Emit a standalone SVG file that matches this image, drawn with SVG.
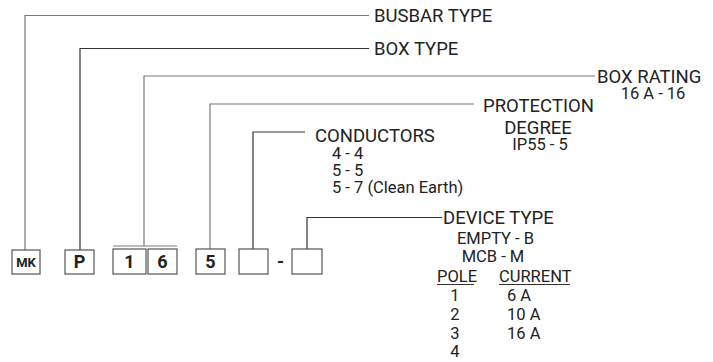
<svg xmlns="http://www.w3.org/2000/svg" width="713" height="362" viewBox="0 0 713 362">
<style>
.ln{fill:none;stroke:#7a7a7a;stroke-width:1.2}
.dk{stroke:#333}
.bx{fill:#fff;stroke:#555;stroke-width:1.2}
.bt{font-family:Roboto,"Liberation Sans",sans-serif;font-weight:bold;fill:#222;text-anchor:middle}
.lb{font-family:Roboto,"Liberation Sans",sans-serif;font-size:18.5px;fill:#222}
.sb{font-family:Roboto,"Liberation Sans",sans-serif;font-size:16.5px;fill:#222}
.mid{text-anchor:middle}
</style>
<rect width="713" height="362" fill="#fff"/>
<g id="connectors">
<path class="ln" d="M25,250V15.5H369"/>
<path class="ln dk" d="M80,250V48.5H369"/>
<path class="ln" d="M144,246V76H595"/>
<path class="ln" d="M113,246H177"/>
<path class="ln" d="M210,249V104H474"/>
<path class="ln dk" d="M253,249V132H305"/>
<path class="ln dk" d="M307,249V217.5H442"/>
</g>
<g id="box-mk"><rect class="bx" x="12" y="250" width="28" height="24"/><text class="bt" x="26" y="267" font-size="13">MK</text></g>
<g id="box-p"><rect class="bx" x="65" y="250" width="29" height="24"/><text class="bt" x="79.5" y="268" font-size="18">P</text></g>
<g id="box-1"><rect class="bx" x="113" y="249" width="33" height="25"/><text class="bt" x="129.5" y="268" font-size="18">1</text></g>
<g id="box-6"><rect class="bx" x="148" y="249" width="29" height="25"/><text class="bt" x="162.5" y="268" font-size="18">6</text></g>
<g id="box-5"><rect class="bx" x="196" y="249" width="29" height="25"/><text class="bt" x="210.5" y="268" font-size="18">5</text></g>
<g id="box-cond"><rect class="bx" x="239" y="249" width="29" height="25"/></g>
<g id="dash"><text class="bt" x="280.5" y="268" font-size="18">-</text></g>
<g id="box-dev"><rect class="bx" x="292" y="249" width="30" height="25"/></g>
<g id="label-busbar"><text class="lb" x="374" y="22">BUSBAR TYPE</text></g>
<g id="label-boxtype"><text class="lb" x="374" y="54.5">BOX TYPE</text></g>
<g id="label-rating"><text class="lb" x="597" y="83">BOX RATING</text><text class="sb mid" x="653" y="99">16 A - 16</text></g>
<g id="label-protection"><text class="lb" x="483" y="112">PROTECTION</text><text class="lb mid" x="538" y="134">DEGREE</text><text class="sb mid" x="540" y="150">IP55 - 5</text></g>
<g id="label-conductors"><text class="lb" x="315" y="142">CONDUCTORS</text><text class="sb" x="332" y="158.5">4 - 4</text><text class="sb" x="332" y="175.5">5 - 5</text><text class="sb" x="332" y="193">5 - 7 (Clean Earth)</text></g>
<g id="label-device">
<text class="lb" x="443" y="224">DEVICE TYPE</text>
<text class="sb mid" x="495.5" y="244">EMPTY - B</text>
<text class="sb mid" x="493" y="262">MCB - M</text>
<text class="sb" x="437" y="282">POLE</text>
<text class="sb" x="499" y="282">CURRENT</text>
<path class="ln dk" d="M437,284.5H474M499,284.5H570" stroke-width="1"/>
<text class="sb mid" x="455" y="301">1</text>
<text class="sb mid" x="455" y="320">2</text>
<text class="sb mid" x="455" y="338.5">3</text>
<text class="sb mid" x="455" y="357">4</text>
<text class="sb" x="507" y="301">6 A</text>
<text class="sb" x="507" y="320">10 A</text>
<text class="sb" x="507" y="338.5">16 A</text>
</g>
</svg>
